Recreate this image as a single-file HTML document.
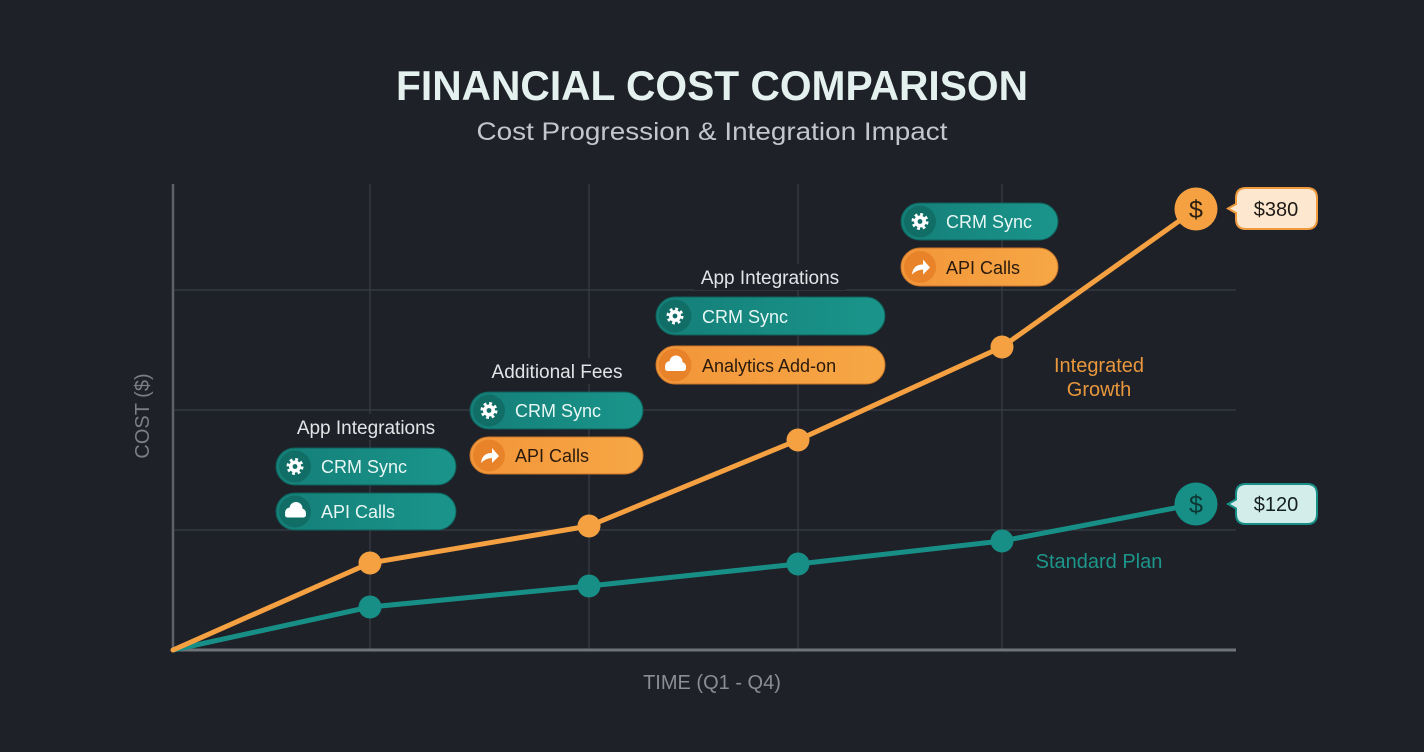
<!DOCTYPE html>
<html><head><meta charset="utf-8"><style>
html,body{margin:0;padding:0;background:#1e2128;}
svg{display:block;}
text{font-family:"Liberation Sans",sans-serif;}
</style></head><body>
<svg width="1424" height="752" viewBox="0 0 1424 752" xmlns="http://www.w3.org/2000/svg">
<defs>
<linearGradient id="tg" x1="0" y1="0" x2="1" y2="0"><stop offset="0" stop-color="#147f78"/><stop offset="1" stop-color="#1a958b"/></linearGradient>
<linearGradient id="og" x1="0" y1="0" x2="1" y2="0"><stop offset="0" stop-color="#f2963a"/><stop offset="1" stop-color="#f7a745"/></linearGradient>
<g id="gear"><circle r="6.5" fill="none" stroke="#fff" stroke-width="4" stroke-dasharray="2.6 2.5"/><circle r="6" fill="#fff"/><circle r="2.4" fill="#106c66"/></g>
<g id="cloud"><circle cx="-5" cy="2" r="5" fill="#fff"/><circle cx="1" cy="-2" r="6.5" fill="#fff"/><circle cx="6.5" cy="2.5" r="4.5" fill="#fff"/><rect x="-10" y="2" width="21" height="5" rx="2.5" fill="#fff"/></g>
<g id="arrow"><path d="M -8 7 Q -7 -3 3 -3 L 3 -8 L 10 0 L 3 7 L 3 2 Q -3 2 -8 7 Z" fill="#fff"/></g>
</defs>
<rect width="1424" height="752" fill="#1e2128"/>

<!-- titles -->
<text x="712" y="100" text-anchor="middle" font-size="42" font-weight="bold" fill="#e4f1ee" textLength="632" lengthAdjust="spacingAndGlyphs">FINANCIAL COST COMPARISON</text>
<text x="712" y="140" text-anchor="middle" font-size="25" fill="#c3c7cb" textLength="471" lengthAdjust="spacingAndGlyphs">Cost Progression &amp; Integration Impact</text>

<!-- grid -->
<g stroke="#393c44" stroke-width="1.3">
<line x1="173" y1="290" x2="1236" y2="290"/>
<line x1="173" y1="410" x2="1236" y2="410"/>
<line x1="173" y1="530" x2="1236" y2="530"/>
<line x1="370" y1="184" x2="370" y2="650"/>
<line x1="589" y1="184" x2="589" y2="650"/>
<line x1="798" y1="184" x2="798" y2="650"/>
<line x1="1002" y1="184" x2="1002" y2="650"/>
</g>
<!-- axes -->
<line x1="173" y1="184" x2="173" y2="651" stroke="#5e6168" stroke-width="2.5"/>
<line x1="172" y1="650" x2="1236" y2="650" stroke="#6f727a" stroke-width="3"/>
<text transform="translate(149,416) rotate(-90)" text-anchor="middle" font-size="20" fill="#7b7e86">COST ($)</text>
<text x="712" y="689" text-anchor="middle" font-size="20" fill="#8a8d94">TIME (Q1 - Q4)</text>

<!-- header labels -->
<rect x="290" y="414" width="152" height="26" fill="#1e2128"/>
<text x="366" y="434" text-anchor="middle" font-size="19" fill="#e2e4e6">App Integrations</text>
<rect x="486" y="358" width="142" height="26" fill="#1e2128"/>
<text x="557" y="378" text-anchor="middle" font-size="19" fill="#e2e4e6">Additional Fees</text>
<rect x="694" y="264" width="152" height="26" fill="#1e2128"/>
<text x="770" y="284" text-anchor="middle" font-size="19" fill="#e2e4e6">App Integrations</text>

<!-- pills group 1 -->
<rect x="276" y="448" width="180" height="37" rx="18.5" fill="url(#tg)" stroke="#0f5f59" stroke-width="1"/>
<circle cx="295" cy="466.5" r="16" fill="#116e67"/>
<use href="#gear" x="295" y="466.5"/>
<text x="321" y="473" font-size="18" fill="#e8f6f4">CRM Sync</text>
<rect x="276" y="493" width="180" height="37" rx="18.5" fill="url(#tg)" stroke="#0f5f59" stroke-width="1"/>
<circle cx="295" cy="511.5" r="16" fill="#116e67"/>
<use href="#cloud" x="295" y="510.5"/>
<text x="321" y="518" font-size="18" fill="#e8f6f4">API Calls</text>

<!-- group 2 -->
<rect x="470" y="392" width="173" height="37" rx="18.5" fill="url(#tg)" stroke="#0f5f59" stroke-width="1"/>
<circle cx="489" cy="410.5" r="16" fill="#116e67"/>
<use href="#gear" x="489" y="410.5"/>
<text x="515" y="417" font-size="18" fill="#e8f6f4">CRM Sync</text>
<rect x="470" y="437" width="173" height="37" rx="18.5" fill="url(#og)" stroke="#c8752a" stroke-width="1"/>
<circle cx="489" cy="455.5" r="16" fill="#e8832a"/>
<use href="#arrow" x="489" y="456"/>
<text x="515" y="462" font-size="18" fill="#2a1a0c">API Calls</text>

<!-- group 3 -->
<rect x="656" y="297" width="229" height="38" rx="19" fill="url(#tg)" stroke="#0f5f59" stroke-width="1"/>
<circle cx="675" cy="316" r="16.5" fill="#116e67"/>
<use href="#gear" x="675" y="316"/>
<text x="702" y="323" font-size="18" fill="#e8f6f4">CRM Sync</text>
<rect x="656" y="346" width="229" height="38" rx="19" fill="url(#og)" stroke="#c8752a" stroke-width="1"/>
<circle cx="675" cy="365" r="16.5" fill="#e8832a"/>
<use href="#cloud" x="675" y="364"/>
<text x="702" y="372" font-size="18" fill="#2a1a0c">Analytics Add-on</text>

<!-- group 4 -->
<rect x="901" y="203" width="157" height="37" rx="18.5" fill="url(#tg)" stroke="#0f5f59" stroke-width="1"/>
<circle cx="920" cy="221.5" r="16" fill="#116e67"/>
<use href="#gear" x="920" y="221.5"/>
<text x="946" y="228" font-size="18" fill="#e8f6f4">CRM Sync</text>
<rect x="901" y="248" width="157" height="38" rx="19" fill="url(#og)" stroke="#c8752a" stroke-width="1"/>
<circle cx="920" cy="267" r="16" fill="#e8832a"/>
<use href="#arrow" x="920" y="267.5"/>
<text x="946" y="274" font-size="18" fill="#2a1a0c">API Calls</text>

<!-- series -->
<polyline points="173,650 370,607 589,586 798,564 1002,541 1196,504" fill="none" stroke="#178f86" stroke-width="5" stroke-linejoin="round" stroke-linecap="round"/>
<polyline points="173,650 370,563 589,526 798,440 1002,347 1196,209" fill="none" stroke="#f5a142" stroke-width="5" stroke-linejoin="round" stroke-linecap="round"/>
<g fill="#178f86">
<circle cx="370" cy="607" r="11.5"/><circle cx="589" cy="586" r="11.5"/><circle cx="798" cy="564" r="11.5"/><circle cx="1002" cy="541" r="11.5"/>
<circle cx="1196" cy="504" r="21.5"/>
</g>
<g fill="#f5a142">
<circle cx="370" cy="563" r="11.5"/><circle cx="589" cy="526" r="11.5"/><circle cx="798" cy="440" r="11.5"/><circle cx="1002" cy="347" r="11.5"/>
<circle cx="1196" cy="209" r="21.5"/>
</g>
<text x="1196" y="218" text-anchor="middle" font-size="25" fill="#2a1e10">$</text>
<text x="1196" y="513" text-anchor="middle" font-size="25" fill="#0d3633">$</text>

<!-- callouts -->
<path d="M1246,188 H1307 Q1317,188 1317,198 V219 Q1317,229 1307,229 H1246 Q1236,229 1236,219 V213 L1228,208.5 L1236,204 V198 Q1236,188 1246,188 Z" fill="#fde8cf" stroke="#f09a3e" stroke-width="2"/>
<text x="1276" y="216" text-anchor="middle" font-size="20" fill="#1e1a16">$380</text>
<path d="M1246,484 H1307 Q1317,484 1317,494 V514 Q1317,524 1307,524 H1246 Q1236,524 1236,514 V508.5 L1228,504 L1236,499.5 V494 Q1236,484 1246,484 Z" fill="#d3eeea" stroke="#178f86" stroke-width="2"/>
<text x="1276" y="511" text-anchor="middle" font-size="20" fill="#14201f">$120</text>

<!-- series labels -->
<text x="1099" y="372" text-anchor="middle" font-size="20" fill="#e8973d">Integrated</text>
<text x="1099" y="396" text-anchor="middle" font-size="20" fill="#e8973d">Growth</text>
<text x="1099" y="568" text-anchor="middle" font-size="20" fill="#1d968b">Standard Plan</text>
</svg>
</body></html>
